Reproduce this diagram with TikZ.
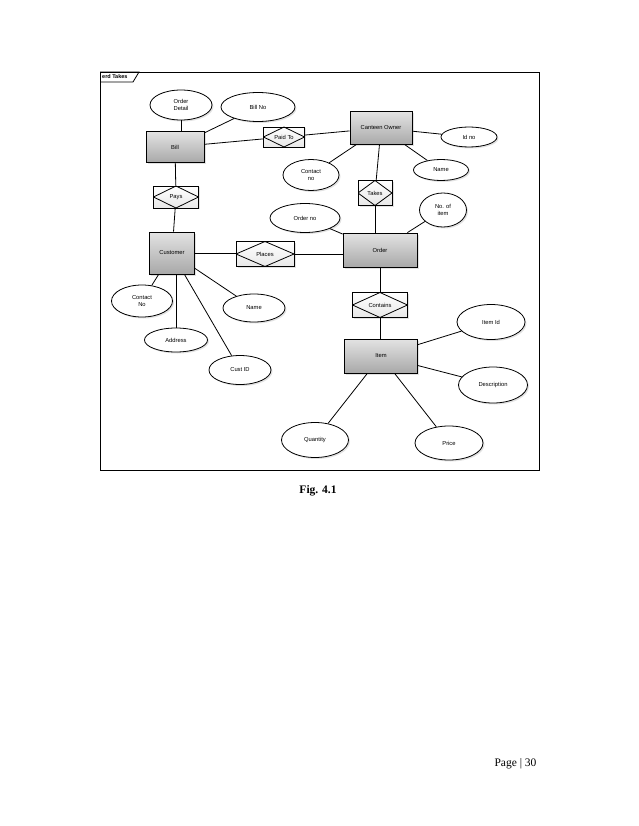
\documentclass[tikz,border=0pt]{standalone}
\usepackage{fontspec}
\setmainfont{Liberation Serif}
\newfontfamily\diagfont{Liberation Sans}
\usetikzlibrary{shapes.geometric, shadows}

\begin{document}
\begin{tikzpicture}[
  x=1pt, y=-1pt,
  font=\diagfont\fontsize{5.8}{6.8}\selectfont,
  % Estilos de bloques
  entity/.style={draw, rectangle, thick, top color=gray!22, bottom color=gray!68,
    drop shadow={shadow xshift=1.5pt, shadow yshift=-1.5pt, fill=gray!45}},
  attrib/.style={draw, ellipse, thick, fill=white, inner sep=0pt, align=center,
    drop shadow={shadow xshift=1.5pt, shadow yshift=-1.5pt, fill=gray!45}},
  relbox/.style={draw, rectangle, thick, top color=white, bottom color=gray!18,
    drop shadow={shadow xshift=1.5pt, shadow yshift=-1.5pt, fill=gray!45},
    path picture={\draw[thick] (path picture bounding box.west) -- (path picture bounding box.north)
      -- (path picture bounding box.east) -- (path picture bounding box.south) -- cycle;}},
  % Estilos de lineas
  line/.style={draw, thick}
]
  \useasboundingbox (0,0) rectangle (638,826);

  % ==========================================
  % FRAME
  % ==========================================
  \draw[thick] (100,72) rectangle (539,470);
  \draw[thick] (100,72) -- (139,72) -- (133,82) -- (100,82);
  \node[anchor=west, font=\diagfont\bfseries\fontsize{5.5}{6}\selectfont, inner sep=1pt] (tag) at (101,77) {erd Takes};

  % ==========================================
  % ENTITIES
  % ==========================================
  \node[entity, minimum width=58, minimum height=31] (bill) at (175,147) {Bill};
  \node[entity, minimum width=62, minimum height=33] (owner) at (381,128) {Canteen Owner};
  \node[entity, minimum width=45, minimum height=42] (customer) at (172,253) {Customer};
  \node[entity, minimum width=74, minimum height=34] (order) at (380,250) {Order};
  \node[entity, minimum width=73, minimum height=34] (item) at (381,356) {Item};

  % ==========================================
  % RELATIONSHIPS
  % ==========================================
  \node[relbox, minimum width=41, minimum height=20] (paidto) at (284,137) {Paid To};
  \node[relbox, minimum width=45, minimum height=22] (pays) at (176,197) {Pays};
  \node[relbox, minimum width=34, minimum height=25] (takes) at (375,193) {Takes};
  \node[relbox, minimum width=58, minimum height=25] (places) at (265,254) {Places};
  \node[relbox, minimum width=55, minimum height=25] (contains) at (380,305) {Contains};

  % ==========================================
  % ATTRIBUTES
  % ==========================================
  \node[attrib, minimum width=62, minimum height=30] (orderdetail) at (181,105) {Order\\Detail};
  \node[attrib, minimum width=74, minimum height=29] (billno) at (258,107) {Bill No};
  \node[attrib, minimum width=56, minimum height=20] (idno) at (469,137) {Id no};
  \node[attrib, minimum width=55, minimum height=21] (ownername) at (441,170) {Name};
  \node[attrib, minimum width=56, minimum height=31] (ownercontact) at (311,175) {Contact\\no};
  \node[attrib, minimum width=70, minimum height=29] (orderno) at (305,218) {Order no};
  \node[attrib, minimum width=47, minimum height=34] (noofitem) at (443,210) {No. of\\item};
  \node[attrib, minimum width=61, minimum height=32] (custcontact) at (142,301) {Contact\\No};
  \node[attrib, minimum width=62, minimum height=28] (custname) at (254,308) {Name};
  \node[attrib, minimum width=63, minimum height=24] (address) at (176,340) {Address};
  \node[attrib, minimum width=62, minimum height=29] (custid) at (240,370) {Cust ID};
  \node[attrib, minimum width=68, minimum height=35] (itemid) at (491,322) {Item Id};
  \node[attrib, minimum width=69, minimum height=36] (description) at (493,385) {Description};
  \node[attrib, minimum width=67, minimum height=35] (quantity) at (315,440) {Quantity};
  \node[attrib, minimum width=68, minimum height=34] (price) at (449,443) {Price};

  % ==========================================
  % CONNECTORS
  % ==========================================
  \draw[line] (orderdetail) -- (orderdetail |- bill.north);
  \draw[line] (bill) -- (billno);
  \draw[line] (bill) -- (paidto);
  \draw[line] (paidto) -- (owner);
  \draw[line] (bill) -- (pays);
  \draw[line] (pays) -- (customer);

  \draw[line] (owner) -- (idno);
  \draw[line] (owner) -- (ownername);
  \draw[line] (owner) -- (ownercontact);
  \draw[line] (owner) -- (takes);
  \draw[line] (takes) -- (takes |- order.north);

  \draw[line] (order) -- (orderno);
  \draw[line] (order) -- (noofitem);
  \draw[line] (places) -- (places -| order.west);
  \draw[line] (order) -- (contains);
  \draw[line] (contains) -- (contains |- item.north);

  \draw[line] (customer) -- (customer -| places.west);
  \draw[line] (customer) -- (custcontact);
  \draw[line] (address) -- (address |- customer.south);
  \draw[line] (customer) -- (custid);
  \draw[line] (customer) -- (custname);

  \draw[line] (item) -- (itemid);
  \draw[line] (item) -- (description);
  \draw[line] (item) -- (quantity);
  \draw[line] (item) -- (price);

  % ==========================================
  % PAGE TEXT
  % ==========================================
  \node[font=\rmfamily\bfseries\fontsize{11.5}{13}\selectfont] (caption) at (318,491) {Fig. 4.1};
  \node[font=\rmfamily\fontsize{11.5}{13}\selectfont, anchor=east] (pageno) at (540,764) {Page | 30};
\end{tikzpicture}
\end{document}
